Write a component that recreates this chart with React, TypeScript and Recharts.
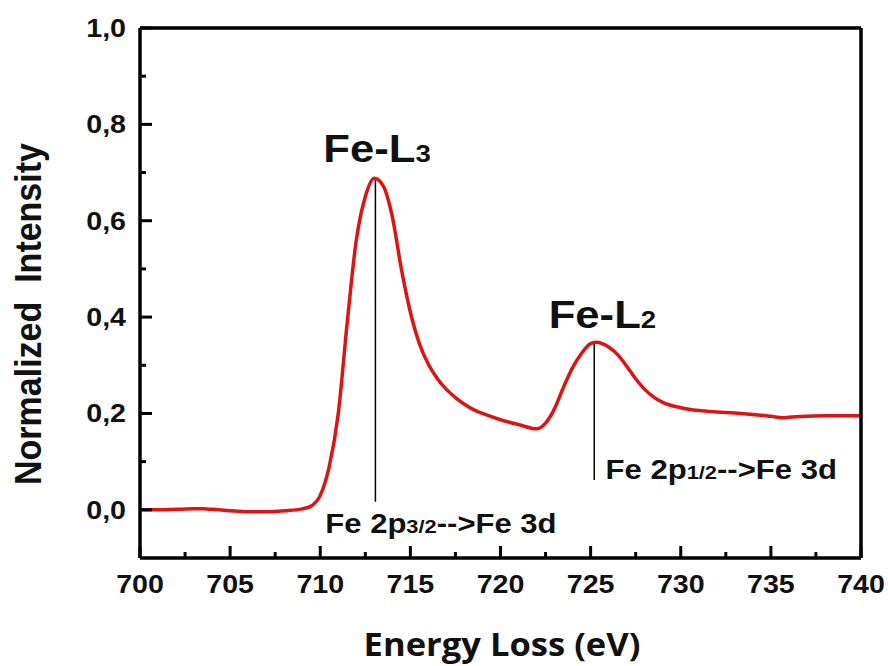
import React from 'react'
import { LineChart, Line, XAxis, YAxis, ReferenceLine, ReferenceDot } from 'recharts'

// EELS spectrum, Fe L-edge
const energy = [
  700, 701, 702, 703, 703.5, 704, 705, 706, 707, 708, 709, 709.5, 710, 710.5, 711, 711.5, 712, 712.5, 713,
  713.5, 714, 714.5, 715, 715.5, 716, 716.5, 717, 717.5, 718, 718.5, 719, 720, 721, 722, 722.5, 723, 723.5,
  724, 724.5, 725, 725.3, 726, 726.5, 727, 727.5, 728, 728.5, 729, 730, 731, 732, 733, 734, 735, 735.7, 736,
  737, 738, 739, 740,
]
const intensity = [
  0.0, 0.0, 0.001, 0.002, 0.002, 0.001, -0.002, -0.004, -0.004, -0.002, 0.002, 0.008, 0.03, 0.09, 0.2, 0.39,
  0.56, 0.65, 0.688, 0.672, 0.608, 0.5, 0.41, 0.345, 0.302, 0.272, 0.25, 0.233, 0.219, 0.208, 0.2, 0.187,
  0.177, 0.168, 0.18, 0.21, 0.255, 0.295, 0.325, 0.345, 0.348, 0.338, 0.322, 0.298, 0.272, 0.25, 0.234, 0.223,
  0.212, 0.206, 0.203, 0.201, 0.198, 0.194, 0.191, 0.192, 0.194, 0.195, 0.195, 0.195,
]

const xTicks = [700, 702.5, 705, 707.5, 710, 712.5, 715, 717.5, 720, 722.5, 725, 727.5, 730, 732.5, 735, 737.5, 740]
const yTicks = [0, 0.1, 0.2, 0.3, 0.4, 0.5, 0.6, 0.7, 0.8, 0.9, 1.0]

// peak markers: [energy, top, bottom]
const markL3 = [713.06, 0.688, 0.017]
const markL2 = [725.2, 0.348, 0.062]

// label anchors: [energy, intensity]
const labelL3 = [710.17, 0.722]
const labelL2 = [722.67, 0.378]
const transL3 = [710.28, -0.048]
const transL2 = [725.83, 0.064]

const data = energy.map((e, i) => ({ e, v: intensity[i] }))

const ARIAL = "Arial, 'Liberation Sans', sans-serif"

function XTick(props: any) {
  const { x, y, payload } = props
  const major = payload.value % 5 === 0
  return (
    <g>
      <line x1={x} y1={y} x2={x} y2={y - (major ? 12 : 6)} stroke="#000" strokeWidth={3} />
      {major && (
        <text
          transform={`translate(${x},${y + 35}) scale(1.1,1)`}
          textAnchor="middle"
          fontFamily={ARIAL}
          fontWeight="bold"
          fontSize={26}
          fill="#111"
        >
          {payload.value}
        </text>
      )}
    </g>
  )
}

function YTick(props: any) {
  const { x, y, payload } = props
  const major = Math.round(payload.value * 10) % 2 === 0
  return (
    <g>
      <line x1={x} y1={y} x2={x + (major ? 12 : 6)} y2={y} stroke="#000" strokeWidth={3} />
      {major && (
        <text
          transform={`translate(${x - 14},${y + 9}) scale(1.1,1)`}
          textAnchor="end"
          fontFamily={ARIAL}
          fontWeight="bold"
          fontSize={26}
          fill="#111"
        >
          {payload.value.toFixed(1).replace('.', ',')}
        </text>
      )}
    </g>
  )
}

function edgeLabel(sub: string) {
  return (p: any) => (
    <text transform={`translate(${p.cx},${p.cy}) scale(1.15,1)`} fontFamily={ARIAL} fontWeight="bold" fontSize={38} fill="#111">
      Fe-L<tspan fontSize={24}>{sub}</tspan>
    </text>
  )
}

function transLabel(sub: string) {
  return (p: any) => (
    <text transform={`translate(${p.cx},${p.cy}) scale(1.15,1)`} fontFamily={ARIAL} fontWeight="bold" fontSize={27} fill="#111">
      Fe 2p<tspan fontSize={19}>{sub}</tspan>
      {'-->Fe 3d'}
    </text>
  )
}

const axisStroke = { stroke: '#000', strokeWidth: 3.5 }

export default function App() {
  return (
    <div style={{ position: 'absolute', left: 0, top: 0, width: 888, height: 666, background: '#fff' }}>
      <LineChart width={888} height={666} data={data} margin={{ top: 27, right: 26, bottom: 107, left: 139 }}>
        <XAxis
          dataKey="e"
          type="number"
          domain={[700, 740]}
          ticks={xTicks}
          interval={0}
          height={1}
          tickSize={0}
          tickMargin={0}
          tickLine={false}
          stroke="#000"
          strokeWidth={3.5}
          axisLine={axisStroke}
          tick={(p: any) => <XTick {...p} />}
        />
        <XAxis
          xAxisId="top"
          orientation="top"
          type="number"
          domain={[700, 740]}
          height={1}
          tick={false}
          tickLine={false}
          stroke="#000"
          strokeWidth={3.5}
          axisLine={axisStroke}
        />
        <YAxis
          type="number"
          domain={[-0.1, 1.0]}
          ticks={yTicks}
          interval={0}
          width={1}
          tickSize={0}
          tickMargin={0}
          tickLine={false}
          stroke="#000"
          strokeWidth={3.5}
          axisLine={axisStroke}
          tick={(p: any) => <YTick {...p} />}
        />
        <YAxis
          yAxisId="right"
          orientation="right"
          type="number"
          domain={[-0.1, 1.0]}
          width={1}
          tick={false}
          tickLine={false}
          stroke="#000"
          strokeWidth={3.5}
          axisLine={axisStroke}
        />
        <ReferenceLine
          segment={[{ x: markL3[0], y: markL3[1] }, { x: markL3[0], y: markL3[2] }]}
          stroke="#000"
          strokeWidth={1.5}
        />
        <ReferenceLine
          segment={[{ x: markL2[0], y: markL2[1] }, { x: markL2[0], y: markL2[2] }]}
          stroke="#000"
          strokeWidth={1.5}
        />
        <Line
          type="monotone"
          dataKey="v"
          stroke="#dc1414"
          strokeWidth={3.5}
          dot={false}
          activeDot={false}
          isAnimationActive={false}
        />
        <ReferenceDot x={labelL3[0]} y={labelL3[1]} r={1} shape={edgeLabel('3')} />
        <ReferenceDot x={labelL2[0]} y={labelL2[1]} r={1} shape={edgeLabel('2')} />
        <ReferenceDot x={transL3[0]} y={transL3[1]} r={1} shape={transLabel('3/2')} />
        <ReferenceDot x={transL2[0]} y={transL2[1]} r={1} shape={transLabel('1/2')} />
      </LineChart>
      <svg width={888} height={666} style={{ position: 'absolute', left: 0, top: 0, pointerEvents: 'none' }}>
        <text
          transform="translate(502,656) scale(1.08,1)"
          textAnchor="middle"
          fontFamily="'Open Sans', sans-serif"
          fontWeight="bold"
          fontSize={32}
          fill="#111"
        >
          Energy Loss (eV)
        </text>
        <text
          transform="translate(41,314) rotate(-90) scale(1,1.1)"
          textAnchor="middle"
          fontFamily={ARIAL}
          fontWeight="bold"
          fontSize={34}
          fill="#111"
          style={{ whiteSpace: 'pre' }}
        >
          {'Normalized  Intensity'}
        </text>
      </svg>
    </div>
  )
}
